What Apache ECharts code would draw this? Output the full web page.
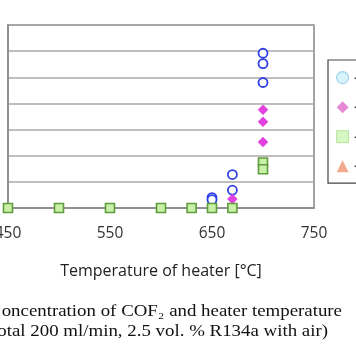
<!DOCTYPE html>
<html><head><meta charset="utf-8">
<script src="https://cdn.jsdelivr.net/npm/echarts@6/dist/echarts.min.js"></script>
<style>html,body{margin:0;padding:0;background:#fff}#c{width:356px;height:364px}</style>
</head><body><div id="c"></div>
<script>
// Data (COF2 concentration vs heater temperature)
const seriesNames = ['◂ 1', '◂ 2', '◂ 3', '◂ 4'];
const blueX = [650, 650, 670, 670, 700, 700, 700];
const blueY = [200, 160, 640, 340, 2960, 2760, 2400];
const pinkX = [670, 700, 700, 700];
const pinkY = [170, 1880, 1650, 1260];
const greenX = [450, 500, 550, 600, 630, 650, 670, 700, 700];
const greenY = [0, 0, 0, 0, 0, 0, 0, 870, 740];
const orangeX = [];
const orangeY = [];
const xTickLabels = [450, 550, 650, 750];
const xAxisTitle = 'Temperature of heater [°C]';
const captionLine1 = 'oncentration of COF₂ and heater temperature';
const captionLine2 = 'otal 200 ml/min, 2.5 vol. % R134a with air)';

const pairs = (xs, ys) => xs.map((x, i) => [x, ys[i]]);
const chart = echarts.init(document.getElementById('c'));
chart.setOption({
  animation: false,
  grid: {left: 8, right: 42, top: 25, bottom: 156, show: true, borderColor: '#858585', borderWidth: 1.5,
         containLabel: false, outerBoundsMode: 'none'},
  xAxis: {
    type: 'value', min: 450, max: 750, interval: 50,
    name: xAxisTitle, nameLocation: 'middle', nameGap: 55,
    nameTextStyle: {fontFamily: 'Open Sans', fontSize: 16, color: '#222'},
    axisLine: {show: true, lineStyle: {color: '#8a8a8a', width: 1.5}},
    axisTick: {show: false},
    splitLine: {show: false},
    axisLabel: {
      fontFamily: 'Open Sans', fontSize: 15.5, color: '#333', margin: 18,
      formatter: v => xTickLabels.indexOf(v) >= 0 ? String(v) : ''
    }
  },
  yAxis: {
    type: 'value', min: 0, max: 3500, interval: 500,
    axisLine: {show: true, lineStyle: {color: '#8a8a8a', width: 1.5}},
    axisTick: {show: false},
    axisLabel: {show: false},
    splitLine: {show: true, lineStyle: {color: '#a8a8a8', width: 1.5}}
  },
  legend: {
    orient: 'vertical', left: 328, top: 60,
    padding: [11, 10, 11, 8], itemGap: 17, itemWidth: 12, itemHeight: 12,
    borderColor: '#444', borderWidth: 1.2,
    textStyle: {fontFamily: 'Open Sans', fontSize: 11, color: '#333'},
    data: [
      {name: seriesNames[0], icon: 'circle', itemStyle: {color: '#d9f3fd', borderColor: '#9fd4ea', borderWidth: 1.2}},
      {name: seriesNames[1], icon: 'diamond', itemStyle: {color: '#e68ad8', borderWidth: 0}},
      {name: seriesNames[2], icon: 'rect', itemStyle: {color: '#d6f6c4', borderColor: '#b7e3a0', borderWidth: 1}},
      {name: seriesNames[3], icon: 'triangle', itemStyle: {color: '#f2ab8e', borderWidth: 0}}
    ]
  },
  series: [
    {name: seriesNames[0], type: 'scatter', symbol: 'circle', symbolSize: 9,
     itemStyle: {color: '#ffffff', borderColor: '#2f3fe6', borderWidth: 1.8, opacity: 1},
     data: pairs(blueX, blueY)},
    {name: seriesNames[1], type: 'scatter', symbol: 'diamond', symbolSize: 10,
     itemStyle: {color: '#e43fe0', borderColor: '#d64ad3', borderWidth: 0.5, opacity: 1},
     data: pairs(pinkX, pinkY)},
    {name: seriesNames[2], type: 'scatter', symbol: 'rect', symbolSize: 9,
     itemStyle: {color: '#c8f0a6', borderColor: '#5f9c3c', borderWidth: 1.6, opacity: 1},
     data: pairs(greenX, greenY)},
    {name: seriesNames[3], type: 'scatter', symbol: 'triangle', symbolSize: 10,
     itemStyle: {color: '#f2ab8e', opacity: 1},
     data: pairs(orangeX, orangeY)}
  ],
  graphic: [
    {type: 'text', x: 342, y: 312, scaleX: 1.11,
     style: {text: captionLine1, font: '17px "Liberation Serif"', fill: '#111', align: 'right', verticalAlign: 'middle'}},
    {type: 'text', x: 328, y: 332, scaleX: 1.11,
     style: {text: captionLine2, font: '17px "Liberation Serif"', fill: '#111', align: 'right', verticalAlign: 'middle'}}
  ]
});
</script></body></html>
